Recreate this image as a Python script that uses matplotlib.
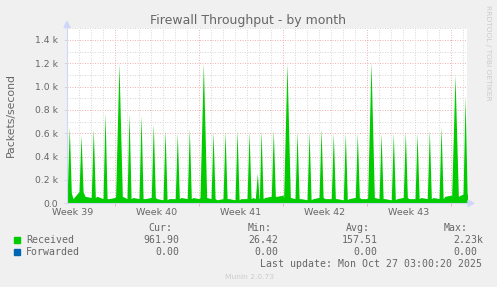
import matplotlib.pyplot as plt
import numpy as np
from matplotlib.patches import Rectangle, Polygon

W, H = 497, 287

title = "Firewall Throughput - by month"
y_label = "Packets/second"
week_labels = ["Week 39", "Week 40", "Week 41", "Week 42", "Week 43"]
week_centers = [0.5, 7.5, 14.5, 21.5, 28.5]   # days from left edge
week_lines = [4, 11, 18, 25, 32]
x_end = 33.33
y_ticks = [0.0, 0.2, 0.4, 0.6, 0.8, 1.0, 1.2, 1.4]

# baseline traffic (k packets/s), every half day
base_days = np.arange(0, 34, 0.5)
base_vals = [0.09, 0.04, 0.10, 0.06, 0.05, 0.06, 0.04, 0.04, 0.05, 0.06,
             0.04, 0.05, 0.04, 0.04, 0.05, 0.04, 0.03, 0.04, 0.04, 0.05,
             0.04, 0.05, 0.04, 0.05, 0.04, 0.03, 0.04, 0.04, 0.03, 0.04,
             0.04, 0.05, 0.04, 0.05, 0.06, 0.06, 0.07, 0.05, 0.04, 0.04,
             0.03, 0.04, 0.05, 0.04, 0.04, 0.04, 0.03, 0.04, 0.05, 0.04,
             0.04, 0.05, 0.04, 0.04, 0.03, 0.04, 0.05, 0.04, 0.04, 0.05,
             0.04, 0.05, 0.04, 0.06, 0.07, 0.06, 0.08, 0.07]

# daily spikes (day, k packets/s)
spike_days = [0.19, 1.17, 2.19, 3.17, 4.33, 5.17, 6.17, 7.19, 8.17, 9.19,
              10.19, 11.36, 12.17, 13.17, 14.17, 15.17, 15.86, 16.17, 17.19,
              18.33, 19.17, 20.17, 21.17, 22.19, 23.19, 24.19, 25.33, 26.17,
              27.19, 28.19, 29.17, 30.19, 31.17, 32.33, 33.17]
spike_vals = [0.656, 0.585, 0.643, 0.771, 1.20, 0.77, 0.757, 0.686, 0.628, 0.60,
              0.643, 1.20, 0.614, 0.614, 0.628, 0.614, 0.257, 0.628, 0.628,
              1.20, 0.614, 0.614, 0.643, 0.60, 0.60, 0.60, 1.21, 0.60,
              0.60, 0.614, 0.60, 0.628, 0.657, 1.10, 0.914]

series = ["Received", "Forwarded"]
series_colors = ["#00CC00", "#0066B3"]
cur_vals = ["961.90", "0.00"]
min_vals = ["26.42", "0.00"]
avg_vals = ["157.51", "0.00"]
max_vals = ["2.23k", "0.00"]
last_update = "Last update: Mon Oct 27 03:00:20 2025"
footer = "Munin 2.0.73"

FONT = "#666666"
AXIS = "#CFD6F8"
MGRID = "#F0B4B4"
GRID = "#D8D8D8"


def fx(x):
    return x / W


def fy(y):
    return 1 - y / H


def half_width(v):
    return 0.28 if v > 1.0 else 0.17


# build the area outline
pts = []
for d, v in zip(spike_days, spike_vals):
    w = half_width(v)
    foot = base_vals[int(np.argmin(np.abs(base_days - d)))]
    pts += [(d - w, foot), (d, v), (d + w, foot)]
for d, v in zip(base_days, base_vals):
    near = [abs(d - s) < half_width(sv) for s, sv in zip(spike_days, spike_vals)]
    if not any(near):
        pts.append((d, v))
pts.sort()
xs = [p[0] for p in pts]
ys = [p[1] for p in pts]

fig = plt.figure(figsize=(W / 100, H / 100), dpi=100, facecolor="#F0F0F0")
ax = fig.add_axes([fx(67), fy(203.3), fx(400), 175 / H])
ax.set_facecolor("white")
ax.set_xlim(0, x_end)
ax.set_ylim(0, 1.5)

dots = (0, (1, 1.5))
for k in range(1, 16):
    v = k / 10
    major = k % 2 == 0 and v < 1.5
    ax.axhline(v, color=MGRID if major else GRID, lw=0.72, ls=dots, zorder=0.5)
for d in range(1, 34):
    ax.axvline(d, color=MGRID if d in week_lines else GRID, lw=0.72, ls=dots, zorder=0.5)

ax.fill_between(xs, 0, ys, color=series_colors[0], lw=0, zorder=2)
ax.plot([0, x_end], [0, 0], color=series_colors[1], lw=0.7, zorder=2.5)

for s in ["top", "right"]:
    ax.spines[s].set_visible(False)
for s in ["left", "bottom"]:
    ax.spines[s].set_color(AXIS)
    ax.spines[s].set_linewidth(0.8)
    ax.spines[s].set_zorder(3)

ax.set_xticks(week_lines)
ax.set_xticklabels([])
ax.set_xticks(range(1, 34), minor=True)
ax.tick_params(axis="x", which="major", length=2, color=MGRID, width=0.7)
ax.tick_params(axis="x", which="minor", length=0)
ax.set_yticks(y_ticks)
ax.set_yticklabels(["0.0"] + ["%.1f k" % v for v in y_ticks[1:]])
ax.tick_params(axis="y", length=2, color=GRID, width=0.7, pad=4.3,
               labelsize=6.7, labelcolor=FONT)

for lab, c in zip(week_labels, week_centers):
    ax.annotate(lab, xy=(c, 0), xycoords=("data", "axes fraction"),
                xytext=(0, -8.4), textcoords="offset points", ha="center",
                va="baseline", fontsize=6.8, color=FONT, annotation_clip=False)

# arrows
fig.patches.append(Polygon([(fx(64), fy(27.5)), (fx(70), fy(27.5)), (fx(67), fy(21.5))],
                           closed=True, transform=fig.transFigure, color=AXIS, zorder=5))
fig.patches.append(Polygon([(fx(468), fy(200.3)), (fx(468), fy(206.3)), (fx(474), fy(203.3))],
                           closed=True, transform=fig.transFigure, color=AXIS, zorder=5))

fig.text(fx(248.5), fy(24), title, ha="center", va="baseline", fontsize=9, color=FONT)
fig.text(fx(10.7), fy(115), y_label, ha="center", va="center", rotation=90,
         fontsize=7.8, color=FONT)
fig.text(fx(488.3), fy(5), "RRDTOOL / TOBI OETIKER", ha="center", va="top",
         rotation=270, fontsize=5.4, color="#CCCCCC")

mono = dict(family="DejaVu Sans Mono", fontsize=7.1, color=FONT, va="baseline")
fig.text(fx(172), fy(231), "Cur:", ha="right", **mono)
fig.text(fx(272), fy(231), "Min:", ha="right", **mono)
fig.text(fx(370), fy(231), "Avg:", ha="right", **mono)
fig.text(fx(468), fy(231), "Max:", ha="right", **mono)
for i, name in enumerate(series):
    yb = 243 + 12 * i
    fig.patches.append(Rectangle((fx(14), fy(yb)), fx(6), 6 / H,
                                 transform=fig.transFigure, color=series_colors[i]))
    fig.text(fx(26), fy(yb), name, ha="left", **mono)
    fig.text(fx(179), fy(yb), cur_vals[i], ha="right", **mono)
    fig.text(fx(278.3), fy(yb), min_vals[i], ha="right", **mono)
    fig.text(fx(377.7), fy(yb), avg_vals[i], ha="right", **mono)
    mx = max_vals[i]
    fig.text(fx(483.7 if mx.endswith("k") else 477.7), fy(yb), mx, ha="right", **mono)
fig.text(fx(482.5), fy(267), last_update, ha="right", **mono)
fig.text(fx(249), fy(279), footer, ha="center", va="baseline", fontsize=5.4, color="#CCCCCC")

fig.savefig("out.png", dpi=100, facecolor=fig.get_facecolor())
